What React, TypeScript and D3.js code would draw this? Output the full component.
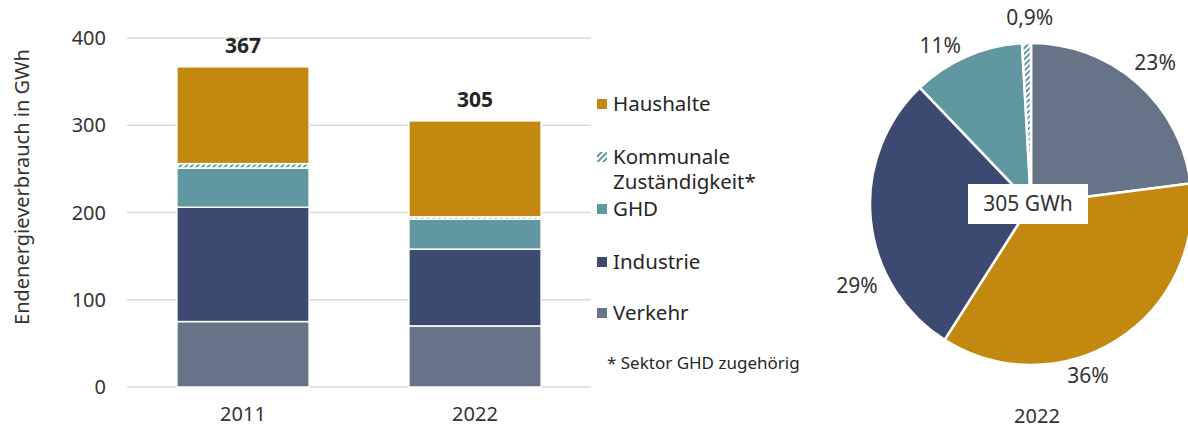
import * as d3 from 'd3'

const YEARS = ['2011', '2022']
const SECTORS = ['Verkehr', 'Industrie', 'GHD', 'Kommunale', 'Haushalte']
const LEGEND_LABELS = ['Haushalte', 'Kommunale\nZuständigkeit*', 'GHD', 'Industrie', 'Verkehr']
const LEGEND_KEYS = ['Haushalte', 'Kommunale', 'GHD', 'Industrie', 'Verkehr']
const VALUES_2011 = [75, 131, 45, 5, 111]
const VALUES_2022 = [70, 88, 34.3, 2.7, 110]
const Y_TICKS = [0, 100, 200, 300, 400]
// clockwise from 12 o'clock
const PIE_ORDER = ['Verkehr', 'Haushalte', 'Industrie', 'GHD', 'Kommunale']

const COLORS: Record<string, string> = {
  Haushalte: '#c3880f',
  Kommunale: 'url(#hatch)',
  GHD: '#6097a1',
  Industrie: '#3c4a72',
  Verkehr: '#677487',
}

// extra shift of pie labels away from the plain centroid spot (Excel style placement)
const LABEL_SHIFT: Record<string, [number, number]> = {
  Verkehr: [0, 0],
  Haushalte: [-44, 13],
  Industrie: [13, 63],
  GHD: [-16, 14],
  Kommunale: [4, 2],
}

const FONT = '"Noto Sans", "Open Sans", sans-serif'
const TXT = '#333333'

export default function App() {
  const W = 1188, H = 430
  const y = d3.scaleLinear().domain([0, 400]).range([387, 38])
  const x = d3.scaleBand().domain(YEARS).range([127, 591]).paddingInner(0.43).paddingOuter(0.215)
  const series = [VALUES_2011, VALUES_2022]

  const stacks = YEARS.map((yr, i) => {
    let acc = 0
    return SECTORS.map((s, j) => {
      const v0 = acc
      acc += series[i][j]
      return { year: yr, key: s, y0: v0, y1: acc }
    })
  })
  const totals = series.map((vals) => d3.sum(vals))

  // pie for 2022
  const pieData = PIE_ORDER.map((k) => ({ key: k, value: VALUES_2022[SECTORS.indexOf(k)] }))
  const total22 = d3.sum(pieData, (d) => d.value)
  const pie = d3.pie<{ key: string; value: number }>().sort(null).value((d) => d.value)
  const arcs = pie(pieData)
  const R = 161
  const cx = 1031, cy = 204
  const arc = d3.arc<d3.PieArcDatum<{ key: string; value: number }>>().innerRadius(0).outerRadius(R)
  const labelArc = d3.arc<d3.PieArcDatum<{ key: string; value: number }>>().innerRadius(188).outerRadius(188)
  const fmtPct = (v: number) => {
    const p = (v / total22) * 100
    return p < 1 ? `${p.toFixed(1).replace('.', ',')}%` : `${Math.round(p)}%`
  }

  return (
    <svg width={W} height={H} style={{ position: 'absolute', left: 0, top: 0, background: '#fff' }} fontFamily={FONT}>
      <defs>
        <pattern id="hatch" width="4" height="4" patternUnits="userSpaceOnUse" patternTransform="rotate(45)">
          <rect width="4" height="4" fill="#ffffff" />
          <rect width="2" height="4" fill="#6097a1" />
        </pattern>
      </defs>

      {/* grid + y axis */}
      {Y_TICKS.map((t) => (
        <g key={t}>
          <line x1={127} x2={591} y1={y(t)} y2={y(t)} stroke="#d9d9d9" strokeWidth={1.3} />
          <text x={106} y={y(t)} dy="0.35em" textAnchor="end" fontSize={20} fill={TXT}>{t}</text>
        </g>
      ))}
      <text transform={`translate(22,187) rotate(-90)`} textAnchor="middle" dy="0.35em" fontSize={20} fill={TXT}>
        Endenergieverbrauch in GWh
      </text>

      {/* bars */}
      {stacks.map((st, i) => (
        <g key={YEARS[i]}>
          {st.map((d) => (
            <rect key={d.key} x={x(d.year)!} width={x.bandwidth()} y={y(d.y1)} height={y(d.y0) - y(d.y1)}
              fill={COLORS[d.key]} stroke="#fff" strokeWidth={1.5} />
          ))}
          <text x={x(YEARS[i])! + x.bandwidth() / 2} y={y(totals[i]) - 14} textAnchor="middle"
            fontSize={21} fontWeight={700} fill="#262626">{Math.round(totals[i])}</text>
          <text x={x(YEARS[i])! + x.bandwidth() / 2} y={421} textAnchor="middle" fontSize={20} fill={TXT}>{YEARS[i]}</text>
        </g>
      ))}

      {/* legend */}
      {LEGEND_KEYS.map((k, i) => {
        const ys = [104, 157, 209, 262, 313]
        const lines = LEGEND_LABELS[i].split('\n')
        return (
          <g key={k}>
            <rect x={597} y={ys[i] - 5} width={10} height={10} fill={COLORS[k]} />
            {lines.map((ln, j) => (
              <text key={j} x={613} y={ys[i] + j * 25} dy="0.35em" fontSize={20.5} fill="#262626">{ln}</text>
            ))}
          </g>
        )
      })}
      <text x={607} y={363} dy="0.35em" fontSize={17} fill="#262626">* Sektor GHD zugehörig</text>

      {/* pie */}
      <g transform={`translate(${cx},${cy})`}>
        {arcs.map((a) => (
          <path key={a.data.key} d={arc(a)!} fill={COLORS[a.data.key]} stroke="#fff" strokeWidth={2.5} strokeLinejoin="round" />
        ))}
        {arcs.map((a) => {
          const [lx, ly] = labelArc.centroid(a)
          const [sx, sy] = LABEL_SHIFT[a.data.key]
          return (
            <text key={a.data.key} x={lx + sx} y={ly + sy} dy="0.35em" textAnchor="middle" fontSize={21} fill={TXT}>
              {fmtPct(a.data.value)}
            </text>
          )
        })}
        <rect x={-63} y={-20} width={120} height={40} fill="#fff" />
        <text x={-3} y={0} dy="0.35em" textAnchor="middle" fontSize={21} fill={TXT}>{Math.round(total22)} GWh</text>
      </g>
      <text x={1037} y={423} textAnchor="middle" fontSize={20} fill={TXT}>2022</text>
    </svg>
  )
}
